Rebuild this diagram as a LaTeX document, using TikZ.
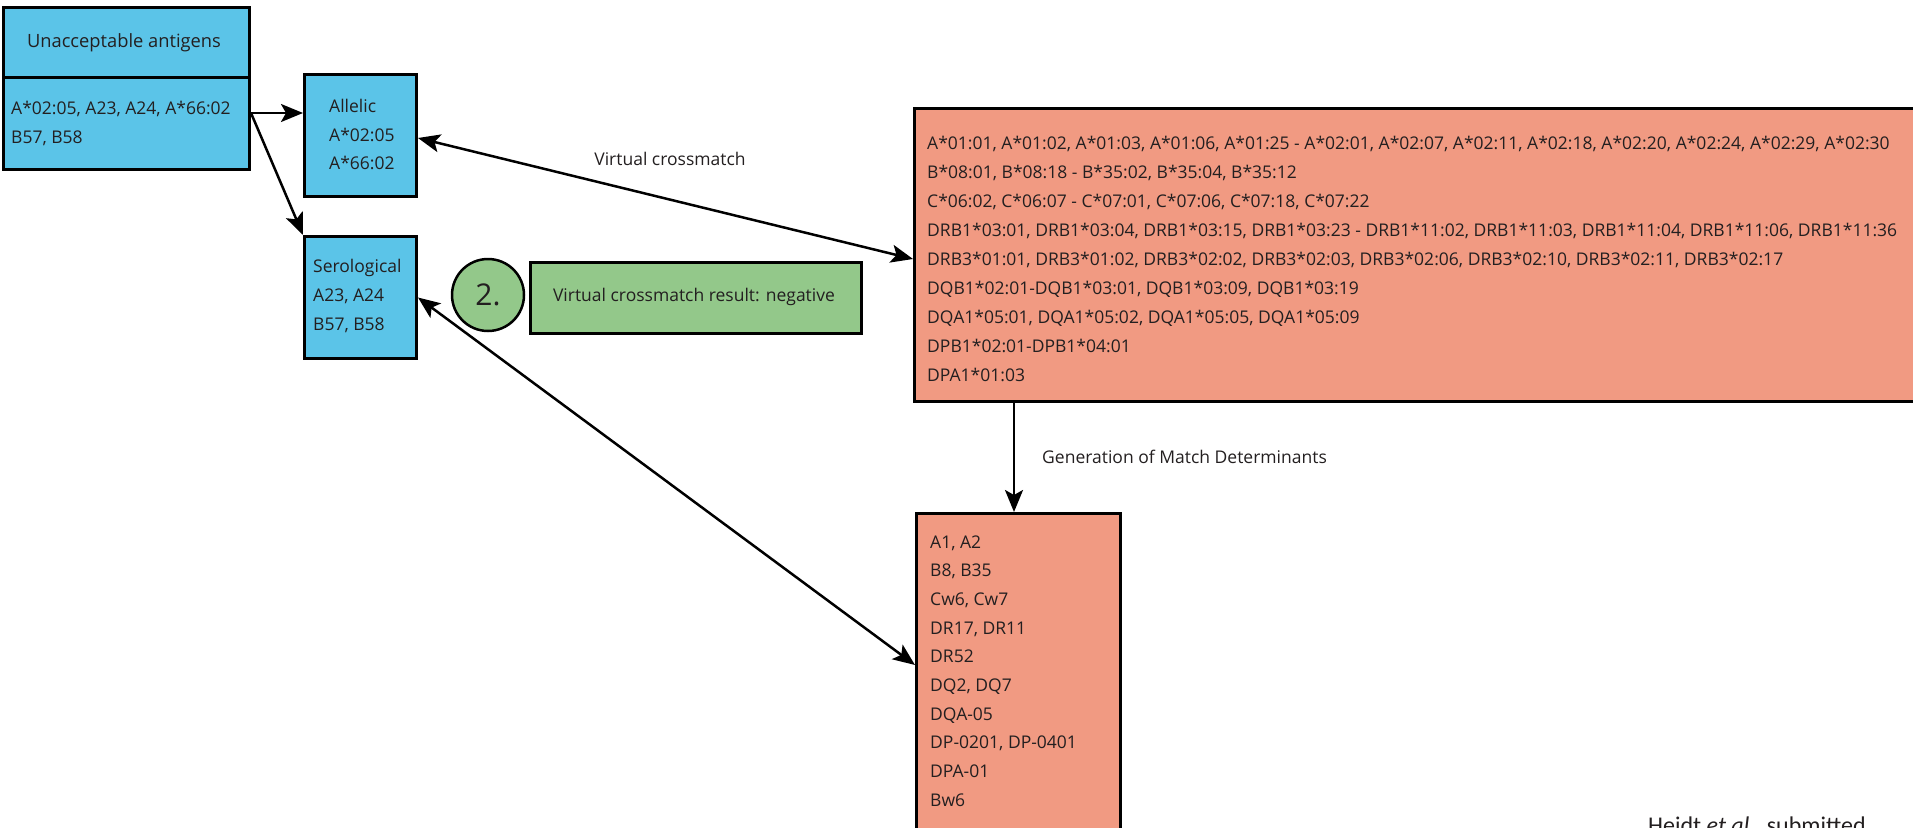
\documentclass[tikz,border=0pt]{standalone}
\usepackage{fontspec}
\setmainfont{Open Sans}
\newfontfamily\calfont{Carlito}
\usetikzlibrary{arrows.meta,calc}
\definecolor{boxblue}{RGB}{91,196,232}
\definecolor{boxsalmon}{RGB}{241,154,130}
\definecolor{boxgreen}{RGB}{147,200,138}
\definecolor{txt}{RGB}{35,31,32}
\tikzset{
  box/.style={draw=black, line width=3pt, inner sep=0pt, anchor=north west},
  txtline/.style={anchor=base west, inner sep=0pt, text=txt, font=\fontsize{17.5}{21}\selectfont},
  lbl/.style={inner sep=0pt, text=txt, font=\fontsize{17.5}{21}\selectfont},
  conn/.style={line width=2.5pt, -{Stealth[length=22pt,width=18pt,inset=5pt]}},
  dconn/.style={line width=2.5pt, {Stealth[length=22pt,width=18pt,inset=5pt]}-{Stealth[length=22pt,width=18pt,inset=5pt]}}
}
\begin{document}
\begin{tikzpicture}[x=1pt,y=-1pt]
\useasboundingbox (0,0) rectangle (1913,827);
% boxes
\node[box, fill=boxblue, minimum width=246pt, minimum height=70pt] (head) at (2,6) {};
\node[box, fill=boxblue, minimum width=246pt, minimum height=92pt] (lower) at (2,76) {};
\node[box, fill=boxblue, minimum width=112pt, minimum height=122pt] (allelic) at (303,73) {};
\node[box, fill=boxblue, minimum width=112pt, minimum height=122pt] (sero) at (303,235) {};
\node[box, fill=boxsalmon, minimum width=1010pt, minimum height=293pt] (big) at (913,107) {};
\node[box, fill=boxsalmon, minimum width=204pt, minimum height=340pt] (small) at (915,512) {};
\node[box, fill=boxgreen, minimum width=331pt, minimum height=71pt, line width=2.5pt] (green) at (529,261) {};
\node[circle, draw=black, line width=2.5pt, fill=boxgreen, minimum size=72pt, inner sep=0pt, text=txt, font=\fontsize{30}{36}\selectfont] (num) at (488,295) {2.};
% texts
\node[lbl, anchor=base, font=\fontsize{18.3}{22}\selectfont] (headtxt) at (124,47) {Unacceptable antigens};
\node[txtline] (l1) at (11,114) {A*02:05, A23, A24, A*66:02};
\node[txtline] (l2) at (11,143) {B57, B58};
\node[txtline] (al1) at (329,112) {Allelic};
\node[txtline] (al2) at (329,141) {A*02:05};
\node[txtline] (al3) at (329,169) {A*66:02};
\node[txtline] (se1) at (313,272) {Serological};
\node[txtline] (se2) at (313,301) {A23, A24};
\node[txtline] (se3) at (313,330) {B57, B58};
\node[lbl] (greentxt) at (694,297) {Virtual crossmatch result: negative};
\foreach \t [count=\i from 0] in {%
  {A*01:01, A*01:02, A*01:03, A*01:06, A*01:25 - A*02:01, A*02:07, A*02:11, A*02:18, A*02:20, A*02:24, A*02:29, A*02:30},
  {B*08:01, B*08:18 - B*35:02, B*35:04, B*35:12},
  {C*06:02, C*06:07 - C*07:01, C*07:06, C*07:18, C*07:22},
  {DRB1*03:01, DRB1*03:04, DRB1*03:15, DRB1*03:23 - DRB1*11:02, DRB1*11:03, DRB1*11:04, DRB1*11:06, DRB1*11:36},
  {DRB3*01:01, DRB3*01:02, DRB3*02:02, DRB3*02:03, DRB3*02:06, DRB3*02:10, DRB3*02:11, DRB3*02:17},
  {DQB1*02:01-DQB1*03:01, DQB1*03:09, DQB1*03:19},
  {DQA1*05:01, DQA1*05:02, DQA1*05:05, DQA1*05:09},
  {DPB1*02:01-DPB1*04:01},
  {DPA1*01:03}}
  \node[txtline] (bt\i) at (927,{149+29*\i}) {\t};
\foreach \t [count=\i from 0] in {{A1, A2},{B8, B35},{Cw6, Cw7},{DR17, DR11},{DR52},{DQ2, DQ7},{DQA-05},{DP-0201, DP-0401},{DPA-01},{Bw6}}
  \node[txtline] (st\i) at (930,{548+28.7*\i}) {\t};
% labels
\node[lbl, anchor=base] (vx) at (670,165) {Virtual crossmatch};
\node[lbl, anchor=base west] (gen) at (1042,463) {Generation of Match Determinants};
\node[anchor=base west, inner sep=0pt, text=txt, font=\calfont\fontsize{24}{28}\selectfont] (cite) at (1648,833) {Heidt \textit{et al.}, submitted};
% connectors
\coordinate (split) at ($(lower.north east)+(0,37)$);
\draw[conn] (split) -- ($(allelic.north west)+(0,40)$);
\draw[conn] (split) -- (sero.north west);
\draw[dconn] ($(allelic.north east)+(0,65)$) -- ($(big.north west)+(0,152)$);
\draw[dconn] (sero.east) -- ($(small.north west)+(0,153)$);
\draw[conn] ($(big.south west)+(101,0)$) -- ($(small.north west)+(99,0)$);
\end{tikzpicture}
\end{document}
